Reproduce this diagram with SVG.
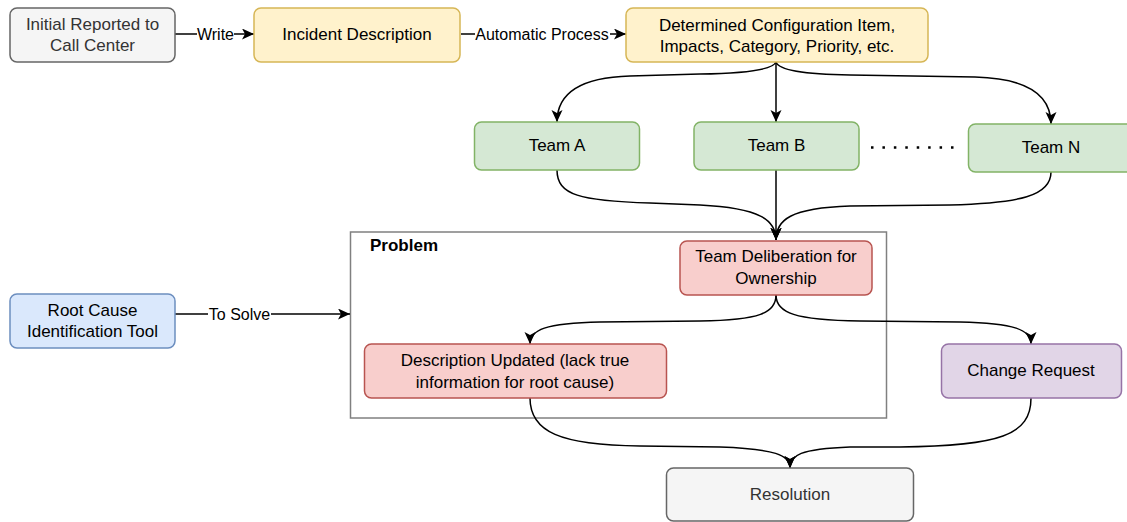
<svg xmlns="http://www.w3.org/2000/svg" width="1127" height="522" viewBox="0 0 1127 522">
<style>
text{font-family:"Liberation Sans",Arial,sans-serif;font-size:17px;fill:#000;text-anchor:middle}
.lbl{font-size:16px}
.dim{fill:#333}
.n{stroke-width:1.5}
.gray{fill:#f5f5f5;stroke:#666}
.yel{fill:#fff2cc;stroke:#d6b656}
.grn{fill:#d5e8d4;stroke:#82b366}
.blu{fill:#dae8fc;stroke:#6c8ebf}
.red{fill:#f8cecc;stroke:#b85450}
.pur{fill:#e1d5e7;stroke:#9673a6}
.e{fill:none;stroke:#000;stroke-width:1.5;marker-end:url(#arr)}
</style>
<defs>
<marker id="arr" markerUnits="userSpaceOnUse" markerWidth="14" markerHeight="14" refX="12" refY="5.5" orient="auto">
<path d="M0,0 L12,5.5 L0,11 L3,5.5 Z" fill="#000"/>
</marker>
</defs>
<g id="problem">
<rect x="350.5" y="232" width="536" height="186" fill="none" stroke="#808080" stroke-width="1.5"/>
<text x="370" y="250.5" style="text-anchor:start;font-weight:bold">Problem</text>
</g>
<g id="connectors">
<path class="e" d="M175,34 L254,34"/>
<rect x="197" y="25" width="37" height="18" fill="#fff"/>
<text class="lbl" x="215.5" y="39.5">Write</text>
<path class="e" d="M461,34 L626,34"/>
<rect x="475" y="25" width="135" height="18" fill="#fff"/>
<text class="lbl" x="542" y="39.5">Automatic Process</text>
<path class="e" d="M776,62 Q772,73 700,74 L630,76 Q557,78 557,122"/>
<path class="e" d="M776,62 L776,122"/>
<path class="e" d="M776,62 Q780,74 850,75 L975,77 Q1051,79 1051,124"/>
<path class="e" d="M557,170 C557,195 580,201 650,203 L700,205 C760,208 776,220 776,240"/>
<path class="e" d="M776,170 L776,240"/>
<path class="e" d="M1051,172 C1051,196 1020,203 950,205 L850,206 C790,208 776,220 776,240"/>
<path class="e" d="M776,295 C776,313 760,320 700,321 L600,322 C545,323 530,330 530,344"/>
<path class="e" d="M776,295 C776,313 795,320 860,321 L960,322 C1015,323 1031,330 1031,344"/>
<path class="e" d="M530,398 C530,432 560,445 640,446 L720,447 C775,449 790,455 790,468"/>
<path class="e" d="M1031,398 C1031,435 1000,446 900,447 L850,447 C800,449 790,455 790,468"/>
<path class="e" d="M175,314 L350,314"/>
<rect x="208" y="305" width="63" height="18" fill="#fff"/>
<text class="lbl" x="239.5" y="319.5">To Solve</text>
</g>
<g id="dots">
<path d="M871,147.5 L954,147.5" stroke="#000" stroke-width="2.5" stroke-dasharray="2.5 8.93" fill="none"/>
</g>
<g id="initial">
<rect class="n gray" x="10" y="8" width="165" height="54" rx="7"/>
<text class="dim" x="92.5" y="29.5">Initial Reported to</text>
<text class="dim" x="92.5" y="51">Call Center</text>
</g>
<g id="incident">
<rect class="n yel" x="254" y="8" width="206" height="54" rx="7"/>
<text x="357" y="40">Incident Description</text>
</g>
<g id="determined">
<rect class="n yel" x="626" y="8" width="302" height="54" rx="7"/>
<text x="777" y="30.5">Determined Configuration Item,</text>
<text x="777" y="52">Impacts, Category, Priority, etc.</text>
</g>
<g id="teamA">
<rect class="n grn" x="474.5" y="122" width="165" height="48" rx="7"/>
<text x="557" y="151">Team A</text>
</g>
<g id="teamB">
<rect class="n grn" x="694" y="122" width="165" height="48" rx="7"/>
<text x="776.5" y="151">Team B</text>
</g>
<g id="teamN">
<rect class="n grn" x="968.5" y="124" width="165" height="48" rx="7"/>
<text x="1051" y="153">Team N</text>
</g>
<g id="deliberation">
<rect class="n red" x="680" y="241" width="192" height="54" rx="7"/>
<text x="776" y="262">Team Deliberation for</text>
<text x="776" y="283.5">Ownership</text>
</g>
<g id="description">
<rect class="n red" x="364.5" y="344" width="302" height="54" rx="7"/>
<text x="515" y="365.5">Description Updated (lack true</text>
<text x="515" y="387.5">information for root cause)</text>
</g>
<g id="change">
<rect class="n pur" x="941.5" y="344" width="180" height="54" rx="7"/>
<text x="1031" y="375.5">Change Request</text>
</g>
<g id="resolution">
<rect class="n gray" x="666.5" y="468" width="247" height="53" rx="7"/>
<text class="dim" x="790" y="499.5">Resolution</text>
</g>
<g id="rootcause">
<rect class="n blu" x="10" y="294" width="165" height="54" rx="7"/>
<text x="92.5" y="316">Root Cause</text>
<text x="92.5" y="337">Identification Tool</text>
</g>
</svg>
